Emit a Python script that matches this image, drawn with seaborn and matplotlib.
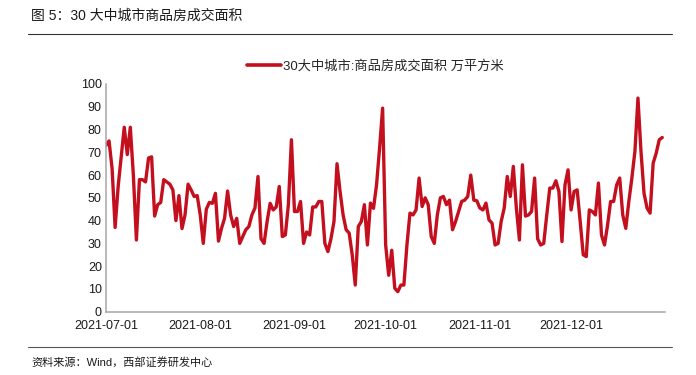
import pandas as pd
import matplotlib
matplotlib.use("Agg")
import matplotlib.pyplot as plt
import seaborn as sns

# daily values, 2021-07-01 .. 2021-12-31 (万平方米)
start_date = "2021-07-01"
values = [
    73, 75, 63, 37, 55, 68, 81, 69, 81, 60,
    31.5, 58, 58, 57, 67.5, 68, 42, 47, 48, 58,
    57, 56, 53.5, 40, 51, 36.5, 42.5, 56, 53.5, 50.6,
    51, 42.5, 30, 45, 48, 47.6, 52, 31, 36.6, 41,
    53, 42.5, 37.4, 41, 30, 33, 36, 37.4, 42.5, 45.5,
    59.4, 32, 30, 39.6, 47.6, 44.7, 46, 55, 33, 33.7,
    47, 75.5, 44, 44, 48.4, 30, 35, 33.7, 46, 46,
    48.4, 48.4, 30, 26.4, 32, 39.6, 65, 52.8, 42.5, 36,
    34.5, 25, 11.7, 37.4, 39.6, 47, 29.3, 47.7, 45.4, 55.7,
    71.8, 89.4, 29.3, 16, 27, 10.3, 8.8, 11.7, 11.7, 29.3,
    43.3, 42.5, 44.7, 58.7, 46.2, 50, 47, 33, 30, 42.5,
    50, 50.6, 47, 49, 36, 39.6, 44, 48.4, 49, 50.6,
    60, 49, 48.7, 45.5, 44.7, 47.7, 40.3, 38.9, 29.3, 30,
    39.6, 45.5, 59.4, 50.6, 63.8, 45.5, 31.5, 64.5, 42, 42.5,
    44, 58.7, 32, 29.3, 30, 42.5, 54.3, 54.3, 57.5, 52.8,
    30.8, 55.7, 62.3, 44.7, 52.8, 53.5, 39.6, 25, 24.2, 44.7,
    44, 42.5, 56.5, 33.7, 29.3, 38, 48.4, 48.4, 55.7, 58.7,
    42.5, 36.6, 48.4, 58.7, 70.4, 93.8, 70.4, 52, 45.5, 43.3,
    65.2, 69.6, 75.5, 76.5,
]
dates = pd.date_range(start_date, periods=len(values), freq="D")
series_name = "30大中城市:商品房成交面积 万平方米"
month_ticks = ["2021-07-01", "2021-08-01", "2021-09-01", "2021-10-01",
               "2021-11-01", "2021-12-01", "2022-01-01"]
y_ticks = list(range(0, 101, 10))

df = pd.DataFrame({"date": dates, "value": values})

sns.set_style("white")
plt.rcParams["font.family"] = ["Liberation Sans", "Noto Sans CJK SC", "DejaVu Sans"]

fig = plt.figure(figsize=(6.96, 3.75), dpi=100)
ax = fig.add_axes([0.1523, 0.1688, 0.8036, 0.6072])

sns.lineplot(data=df, x="date", y="value", ax=ax, color="#C40F1E",
             linewidth=2.4, label=series_name)

ax.set_ylim(0, 100)
ax.set_xlim(pd.Timestamp(month_ticks[0]), pd.Timestamp(month_ticks[-1]))
ax.set_yticks(y_ticks)
ax.set_xticks([pd.Timestamp(t) for t in month_ticks])
ax.set_xticklabels(month_ticks[:-1] + [""])
ax.set_xlabel("")
ax.set_ylabel("")

for side in ["top", "right"]:
    ax.spines[side].set_visible(False)
for side in ["left", "bottom"]:
    ax.spines[side].set_color("#A6A6A6")
    ax.spines[side].set_linewidth(1.1)
ax.tick_params(axis="both", direction="in", length=3, width=0.8,
               color="#A6A6A6", labelsize=9, labelcolor="#1a1a1a", pad=3)
ax.tick_params(axis="x", pad=6)

leg = ax.legend(loc="center", bbox_to_anchor=(0.539, 0.824),
                bbox_transform=fig.transFigure, frameon=False,
                fontsize=9.5, handlelength=2.6, handletextpad=0.1)
for line in leg.get_lines():
    line.set_linewidth(2.6)

fig.text(0.045, 0.958, "图 5：30 大中城市商品房成交面积", fontsize=10,
         ha="left", va="center", color="#1a1a1a")
fig.text(0.045, 0.035, "资料来源：Wind，西部证券研发中心", fontsize=8,
         ha="left", va="center", color="#1a1a1a")

fig.add_artist(plt.Line2D([0.04, 0.965], [0.91, 0.91], color="#333333",
                          linewidth=0.8, transform=fig.transFigure))
fig.add_artist(plt.Line2D([0.04, 0.965], [0.075, 0.075], color="#555555",
                          linewidth=0.8, transform=fig.transFigure))

fig.savefig("out.png", dpi=100)
